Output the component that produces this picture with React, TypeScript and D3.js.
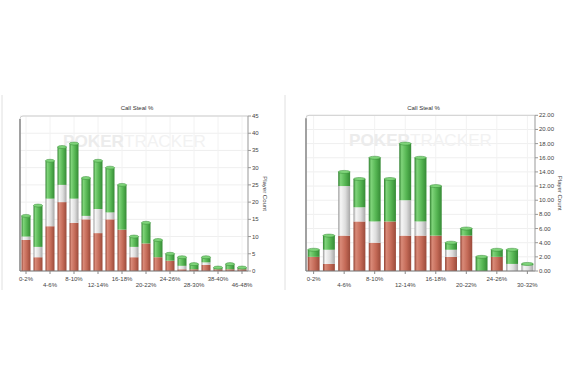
import * as d3 from "d3";
import { useEffect, useRef } from "react";

const leftCats = ["0-2%", "2-4%", "4-6%", "6-8%", "8-10%", "10-12%", "12-14%", "14-16%", "16-18%", "18-20%", "20-22%", "22-24%", "24-26%", "26-28%", "28-30%", "30-32%", "38-40%", "42-44%", "46-48%"];
const leftRed = [9, 4, 13, 20, 14, 15, 11, 15, 12, 4, 8, 4, 3, 0.5, 0.5, 1.8, 0.5, 0.5, 0.5];
const leftWhite = [1, 3, 8, 5, 7, 1, 7, 2, 0, 3, 0, 0, 0, 1, 0, 0.7, 0, 0, 0];
const leftGreen = [6, 12, 11, 11, 16, 11, 14, 13, 13, 3, 6, 5, 2, 2.5, 1.5, 1.5, 0.5, 1.5, 0.5];
const leftTicks = [0, 5, 10, 15, 20, 25, 30, 35, 40, 45];

const rightCats = ["0-2%", "2-4%", "4-6%", "6-8%", "8-10%", "10-12%", "12-14%", "14-16%", "16-18%", "18-20%", "20-22%", "22-24%", "24-26%", "26-28%", "30-32%"];
const rightRed = [2, 1, 5, 7, 4, 7, 5, 5, 5, 2, 5, 0, 2, 0, 0];
const rightWhite = [0, 2, 7, 2, 3, 0, 5, 2, 0, 1, 0, 0, 0, 1, 0.8];
const rightGreen = [1, 2, 2, 4, 9, 6, 8, 9, 7, 1, 1, 2, 1, 2, 0.2];
const rightTicks = [0, 2, 4, 6, 8, 10, 12, 14, 16, 18, 20, 22];

const colors = {
  red: ["#8e3f30", "#d98a78", "#c46a57", "#9a4a3a"],
  white: ["#9a9a9a", "#f6f6f6", "#dddddd", "#a8a8a8"],
  green: ["#2f7f2f", "#7fd47a", "#55b552", "#358a35"],
};

const font = "'Liberation Sans', Arial, sans-serif";

const drawChart = (svg, opts) => {
  const { cats, red, white, green, ticks, x0, x1, y0, y1, pad, fmt, panelX } = opts;
  const g = svg.append("g");

  const x = d3.scaleBand().domain(cats).range([x0, x1]).paddingInner(pad).paddingOuter(pad / 2);
  const y = d3.scaleLinear().domain([0, ticks[ticks.length - 1]]).range([y0, y1]);

  // panel separator
  g.append("line").attr("x1", panelX).attr("x2", panelX).attr("y1", 95).attr("y2", 290)
    .attr("stroke", "#e0e0e0");

  // grid
  g.selectAll(".hg").data(ticks).enter().append("line")
    .attr("x1", x0).attr("x2", x1).attr("y1", (d) => y(d)).attr("y2", (d) => y(d))
    .attr("stroke", "#efefef");
  const labelCats = cats.filter((d, i) => i % 2 === 0);
  g.selectAll(".vg").data(labelCats).enter().append("line")
    .attr("x1", (d) => x(d) + x.bandwidth() / 2).attr("x2", (d) => x(d) + x.bandwidth() / 2)
    .attr("y1", y1).attr("y2", y0).attr("stroke", "#f2f2f2");

  // frame
  g.append("path")
    .attr("d", `M${x0},${y0} L${x0},${y1 + 3} Q${x0},${y1} ${x0 + 3},${y1} L${x1},${y1}`)
    .attr("fill", "none").attr("stroke", "#cfcfcf");
  g.append("line").attr("x1", x0).attr("x2", x0).attr("y1", y1 + 3).attr("y2", y0)
    .attr("stroke", "#8a8a8a").attr("stroke-width", 1.5);

  // watermark
  const wm = g.append("text").attr("x", x0 + 43).attr("y", y1 + 31)
    .attr("font-family", font).attr("font-size", 17).attr("textLength", 143)
    .attr("lengthAdjust", "spacingAndGlyphs");
  wm.append("tspan").attr("fill", "#ececec").attr("font-weight", "bold").text("POKER");
  wm.append("tspan").attr("fill", "#f2f2f2").text("TRACKER");

  // bars
  const series = [
    { key: "red", vals: red },
    { key: "white", vals: white },
    { key: "green", vals: green },
  ];
  cats.forEach((c, i) => {
    let base = 0;
    const bx = x(c);
    const bw = x.bandwidth();
    const total = red[i] + white[i] + green[i];
    series.forEach((s) => {
      const v = s.vals[i];
      if (v <= 0) return;
      const top = base + v;
      g.append("rect").attr("x", bx).attr("width", bw)
        .attr("y", y(top)).attr("height", y(base) - y(top))
        .attr("fill", `url(#grad-${s.key})`);
      if (top === total) {
        g.append("rect").attr("x", bx).attr("width", bw)
          .attr("y", y(top) - 1.5).attr("height", 3).attr("rx", bw / 2).attr("ry", 1.5)
          .attr("fill", colors[s.key][1]).attr("stroke", colors[s.key][3]).attr("stroke-width", 0.5);
      }
      base = top;
    });
  });

  // bottom axis
  g.append("line").attr("x1", x0).attr("x2", x1).attr("y1", y0).attr("y2", y0)
    .attr("stroke", "#777").attr("stroke-width", 1.2);
  g.selectAll(".xt").data(labelCats).enter().append("line")
    .attr("x1", (d) => x(d) + x.bandwidth() / 2).attr("x2", (d) => x(d) + x.bandwidth() / 2)
    .attr("y1", y0).attr("y2", y0 + 3).attr("stroke", "#888");
  g.selectAll(".xl").data(labelCats).enter().append("text")
    .attr("x", (d) => x(d) + x.bandwidth() / 2)
    .attr("y", (d, i) => (i % 2 === 0 ? y0 + 10 : y0 + 16))
    .attr("text-anchor", "middle").attr("font-family", font).attr("font-size", 6)
    .attr("fill", "#444").text((d) => d);

  // right axis
  g.append("line").attr("x1", x1).attr("x2", x1).attr("y1", y1).attr("y2", y0)
    .attr("stroke", "#999");
  g.selectAll(".yt").data(ticks).enter().append("line")
    .attr("x1", x1).attr("x2", x1 + 3).attr("y1", (d) => y(d)).attr("y2", (d) => y(d))
    .attr("stroke", "#999");
  g.selectAll(".yl").data(ticks).enter().append("text")
    .attr("x", x1 + 4).attr("y", (d) => y(d) + 2)
    .attr("font-family", font).attr("font-size", 6).attr("fill", "#444")
    .text((d) => fmt(d));

  // titles
  g.append("text").attr("x", (x0 + x1) / 2 + 3).attr("y", 110)
    .attr("text-anchor", "middle").attr("font-family", font).attr("font-size", 6)
    .attr("fill", "#333").text("Call Steal %");
  g.append("text").attr("transform", `translate(${opts.titleX},${(y0 + y1) / 2}) rotate(90)`)
    .attr("text-anchor", "middle").attr("font-family", font).attr("font-size", 6)
    .attr("fill", "#444").text("Player Count");
};

const App = () => {
  const ref = useRef(null);

  useEffect(() => {
    const svg = d3.select(ref.current);
    svg.selectAll("*").remove();
    const defs = svg.append("defs");
    Object.keys(colors).forEach((k) => {
      const c = colors[k];
      const lg = defs.append("linearGradient").attr("id", `grad-${k}`)
        .attr("x1", "0").attr("x2", "1").attr("y1", "0").attr("y2", "0");
      lg.append("stop").attr("offset", "0").attr("stop-color", c[0]);
      lg.append("stop").attr("offset", "0.2").attr("stop-color", c[1]);
      lg.append("stop").attr("offset", "0.6").attr("stop-color", c[2]);
      lg.append("stop").attr("offset", "1").attr("stop-color", c[3]);
    });

    drawChart(svg, {
      cats: leftCats, red: leftRed, white: leftWhite, green: leftGreen, ticks: leftTicks,
      x0: 20, x1: 248, y0: 271, y1: 116, pad: 0.25, fmt: (d) => String(d), panelX: 2, titleX: 263,
    });
    drawChart(svg, {
      cats: rightCats, red: rightRed, white: rightWhite, green: rightGreen, ticks: rightTicks,
      x0: 306, x1: 535, y0: 271, y1: 115.3, pad: 0.22, fmt: (d) => d.toFixed(2), panelX: 285, titleX: 558,
    });
  }, []);

  return (
    <svg ref={ref} width={563} height={388}
      style={{ position: "absolute", left: 0, top: 0, background: "white" }} />
  );
};

export default App;
